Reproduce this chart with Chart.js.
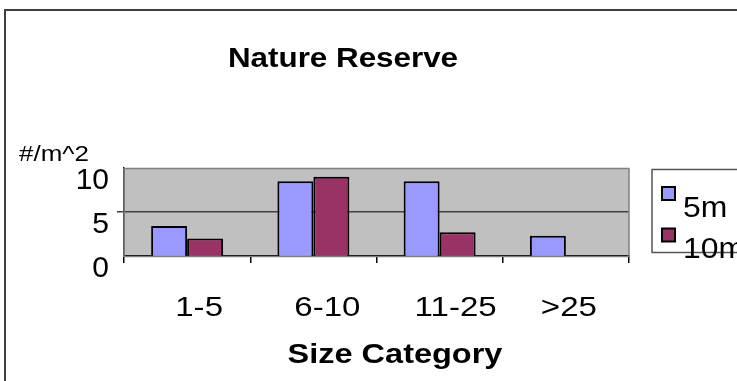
<!DOCTYPE html>
<html>
<head>
<meta charset="utf-8">
<style>
  html, body { margin: 0; padding: 0; background: #ffffff; }
  #wrap { width: 737px; height: 381px; position: relative; }
</style>
<script src="https://cdn.jsdelivr.net/npm/chart.js@4/dist/chart.umd.min.js"></script>
</head>
<body>
<div id="wrap"><canvas id="chart" width="737" height="381"></canvas></div>
<script>
// Density by size class at two distances
const categories = ['1-5', '6-10', '11-25', '>25'];
const seriesNames = ['5m', '10m'];
const values5m = [3.4, 8.5, 8.5, 2.3];
const values10m = [2.0, 9.0, 2.7, 0];
const yTicks = [0, 5, 10];

const FONT = "'Liberation Sans', Arial, sans-serif";
const colors = ['#9999FF', '#993366'];

// text drawn with a horizontal stretch factor
function wideText(ctx, text, x, y, sx, align) {
  ctx.save();
  const w = ctx.measureText(text).width * sx;
  let left = x;
  if (align === 'center') left = x - w / 2;
  else if (align === 'right') left = x - w;
  ctx.translate(left, y);
  ctx.scale(sx, 1);
  ctx.textAlign = 'left';
  ctx.fillText(text, 0, 0);
  ctx.restore();
}

// Frame, plot background, title, category labels, unit label and legend
const labelNudge = [12, 14, 16, 3];
const decorations = {
  id: 'decorations',
  beforeDraw(chart) {
    const { ctx, chartArea: a } = chart;
    ctx.save();
    ctx.fillStyle = '#C0C0C0';
    ctx.fillRect(a.left, a.top, a.right - a.left, a.bottom - a.top);
    ctx.restore();
  },
  afterDraw(chart) {
    const { ctx, chartArea: a } = chart;
    const xs = chart.scales.x;
    ctx.save();
    // plot outline
    ctx.strokeStyle = '#808080';
    ctx.lineWidth = 1.5;
    ctx.strokeRect(a.left, a.top + 0.5, a.right - a.left, a.bottom - a.top);
    // outer frame
    ctx.strokeStyle = '#404040';
    ctx.lineWidth = 2;
    ctx.beginPath();
    ctx.moveTo(5, 390);
    ctx.lineTo(5, 10);
    ctx.lineTo(745, 10);
    ctx.stroke();

    ctx.fillStyle = '#000';
    ctx.textBaseline = 'alphabetic';
    // title
    ctx.font = 'bold 28px ' + FONT;
    wideText(ctx, 'Nature Reserve', 343, 67, 1.12, 'center');
    // unit label
    ctx.font = '22px ' + FONT;
    wideText(ctx, '#/m^2', 19, 161, 1.18, 'left');
    // category labels
    ctx.font = '28px ' + FONT;
    categories.forEach((c, i) => {
      wideText(ctx, c, xs.getPixelForTick(i) + labelNudge[i], 316, 1.18, 'center');
    });
    // axis title
    ctx.font = 'bold 28px ' + FONT;
    wideText(ctx, 'Size Category', 395, 363, 1.16, 'center');

    // legend
    ctx.strokeStyle = '#555';
    ctx.lineWidth = 1.5;
    ctx.strokeRect(652, 169.5, 100, 83);
    ctx.font = '29px ' + FONT;
    const rows = [187, 228.5];
    chart.data.datasets.forEach((ds, i) => {
      ctx.fillStyle = ds.backgroundColor;
      ctx.fillRect(662, rows[i], 13, 13);
      ctx.lineWidth = 2;
      ctx.strokeStyle = '#000';
      ctx.strokeRect(662, rows[i], 13, 13);
      ctx.fillStyle = '#000';
      wideText(ctx, ds.label, 683, rows[i] + 29.5, 1.1, 'left');
    });
    ctx.restore();
  }
};

new Chart(document.getElementById('chart'), {
  type: 'bar',
  data: {
    labels: categories,
    datasets: [
      { label: seriesNames[0], data: values5m, backgroundColor: colors[0], borderColor: '#000', borderWidth: 2 },
      { label: seriesNames[1], data: values10m, backgroundColor: colors[1], borderColor: '#000', borderWidth: 2 }
    ]
  },
  options: {
    responsive: false,
    animation: false,
    events: [],
    layout: { padding: { left: 0, top: 168, right: 108, bottom: 0 } },
    datasets: { bar: { categoryPercentage: 0.57, barPercentage: 1.0 } },
    plugins: { legend: { display: false }, title: { display: false }, tooltip: { enabled: false } },
    scales: {
      x: {
        grid: { offset: true, drawOnChartArea: false, tickLength: 7, color: '#000', lineWidth: 1.5 },
        border: { color: '#000', width: 1.5 },
        ticks: { display: false },
        afterFit(s) { s.height = 381 - 256; }
      },
      y: {
        min: 0, max: 10,
        afterBuildTicks(s) { s.ticks = yTicks.map(v => ({ value: v })); },
        grid: {
          tickLength: 7,
          color: (c) => (c.tick && c.tick.value === 5) ? '#404040' : '#000',
          lineWidth: (c) => (c.tick && c.tick.value === 5) ? 1.5 : 0
        },
        border: { color: '#000', width: 1.5 },
        ticks: { font: { family: FONT, size: 30 }, color: '#000', padding: 8, labelOffset: 13 },
        afterFit(s) { s.width = 124; }
      }
    }
  },
  plugins: [decorations]
});
</script>
</body>
</html>
